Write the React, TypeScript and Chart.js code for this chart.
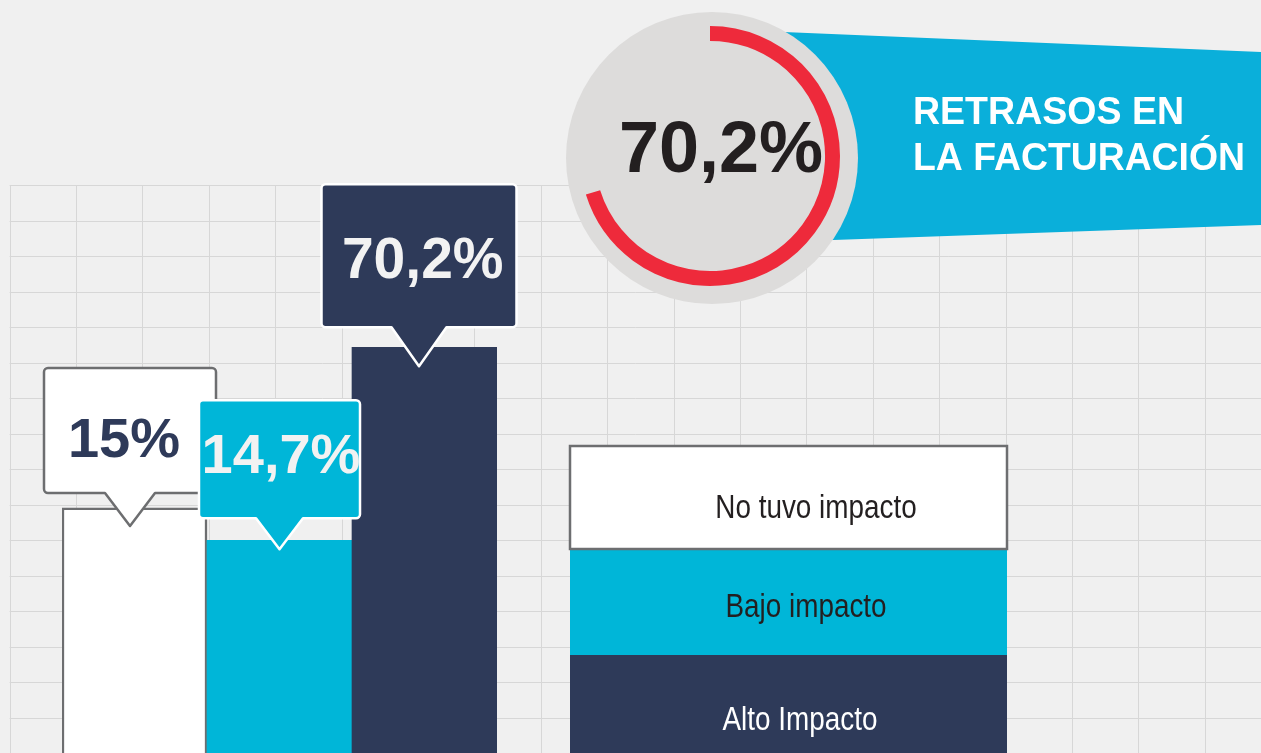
import React, { useEffect, useRef } from "react";
import { Chart, registerables } from "chart.js";

Chart.register(...registerables);

// ---- data ----
const categories = ["No tuvo impacto", "Bajo impacto", "Alto Impacto"];
const percentValues = [15, 14.7, 70.2];
// bar heights as drawn in the infographic (not to scale with the labels)
const drawnHeights = [42.4, 36.8, 70.2];
const donutValues = [70.2, 29.8];
const donutLabels = ["Retrasos en la facturación", "Resto"];
const bannerLines = ["RETRASOS EN", "LA FACTURACIÓN"];

// ---- styles ----
const BG = "#f0f0f0";
const GRID = "#d7d7d7";
const WHITE = "#ffffff";
const CYAN = "#00b6d8";
const NAVY = "#2e3a59";
const GRAYLINE = "#6d6e70";
const BANNER = "#0aafda";
const RED = "#ee2a3b";
const CIRCLE = "#dddcdb";
const DARK = "#231f20";
const BOLD = '"Liberation Sans", Arial, Helvetica, sans-serif';
const LEGENDFONT = '"Liberation Sans", Arial, Helvetica, sans-serif';

const barFill = [WHITE, CYAN, NAVY];
const barBorder = [GRAYLINE, "rgba(0,0,0,0)", "rgba(0,0,0,0)"];
const barBorderW = [2.5, 0, 0];

const callouts = [
  { dx: -4.5, tipBelow: 18, ptrH: 33, ptrW: 50, w: 172, h: 125, fill: WHITE, stroke: GRAYLINE, lw: 2.5, text: NAVY, tdx: -6, tBase: 89, size: 56 },
  { dx: 0, tipBelow: 9, ptrH: 31, ptrW: 47, w: 161, h: 118, fill: CYAN, stroke: WHITE, lw: 2.5, text: "#f2f2f2", tdx: 1.5, tBase: 73, size: 56 },
  { dx: -5.5, tipBelow: 19, ptrH: 39, ptrW: 55, w: 195, h: 143, fill: NAVY, stroke: WHITE, lw: 2.5, text: "#f2f2f2", tdx: 3.7, tBase: 94, size: 57 },
];

const legendRows = [
  { top: 549, bottom: 655, fill: CYAN, stroke: null, text: DARK, cx: 806, base: 617 },
  { top: 655, bottom: 760, fill: NAVY, stroke: null, text: WHITE, cx: 800, base: 730 },
  { top: 446, bottom: 549, fill: WHITE, stroke: GRAYLINE, text: DARK, cx: 816, base: 518 },
];
const legendOrder = [1, 2, 0];

const fmt = (v: number) => String(v).replace(".", ",") + "%";

function drawCallout(ctx: CanvasRenderingContext2D, cx: number, tipY: number, c: any) {
  const bb = tipY - c.ptrH;
  const top = bb - c.h;
  const l = cx - c.w / 2;
  const r = cx + c.w / 2;
  const rad = 4;
  ctx.save();
  ctx.beginPath();
  ctx.moveTo(l + rad, top);
  ctx.lineTo(r - rad, top);
  ctx.arcTo(r, top, r, top + rad, rad);
  ctx.lineTo(r, bb - rad);
  ctx.arcTo(r, bb, r - rad, bb, rad);
  ctx.lineTo(cx + c.ptrW / 2, bb);
  ctx.lineTo(cx, tipY);
  ctx.lineTo(cx - c.ptrW / 2, bb);
  ctx.lineTo(l + rad, bb);
  ctx.arcTo(l, bb, l, bb - rad, rad);
  ctx.lineTo(l, top + rad);
  ctx.arcTo(l, top, l + rad, top, rad);
  ctx.closePath();
  ctx.fillStyle = c.fill;
  ctx.fill();
  ctx.lineJoin = "round";
  ctx.lineWidth = c.lw;
  ctx.strokeStyle = c.stroke;
  ctx.stroke();
  ctx.restore();
  return { top, bb };
}

const mainPlugin = {
  id: "infographic",
  beforeDraw(chart: any) {
    const ctx: CanvasRenderingContext2D = chart.ctx;
    const W = chart.width;
    const H = chart.height;
    ctx.save();
    ctx.fillStyle = BG;
    ctx.fillRect(0, 0, W, H);
    ctx.strokeStyle = GRID;
    ctx.lineWidth = 1;
    const x0 = 9.6, dx = 66.4, y0 = 185.3, dy = 35.5;
    for (let x = x0; x < W; x += dx) {
      ctx.beginPath();
      ctx.moveTo(Math.round(x) + 0.5, y0);
      ctx.lineTo(Math.round(x) + 0.5, H);
      ctx.stroke();
    }
    for (let y = y0; y < H; y += dy) {
      ctx.beginPath();
      ctx.moveTo(x0, Math.round(y) + 0.5);
      ctx.lineTo(W, Math.round(y) + 0.5);
      ctx.stroke();
    }
    // banner
    ctx.fillStyle = BANNER;
    ctx.beginPath();
    ctx.moveTo(712, 28.9);
    ctx.lineTo(W, 52);
    ctx.lineTo(W, 225);
    ctx.lineTo(712, 244.2);
    ctx.closePath();
    ctx.fill();
    ctx.fillStyle = WHITE;
    ctx.font = `bold 38px ${BOLD}`;
    ctx.textAlign = "left";
    ctx.textBaseline = "alphabetic";
    const lines = [
      { t: bannerLines[0], y: 124, w: 271 },
      { t: bannerLines[1], y: 170, w: 332 },
    ];
    lines.forEach((ln) => {
      const m = ctx.measureText(ln.t).width;
      ctx.save();
      ctx.translate(913, ln.y);
      ctx.scale(ln.w / m, 1);
      ctx.fillText(ln.t, 0, 0);
      ctx.restore();
    });
    ctx.restore();
  },
  afterDatasetsDraw(chart: any) {
    const ctx: CanvasRenderingContext2D = chart.ctx;
    const meta = chart.getDatasetMeta(0);
    // legend
    ctx.save();
    legendOrder.forEach((ci, k) => {
      const row = legendRows[k];
      ctx.fillStyle = row.fill;
      ctx.fillRect(570, row.top, 437, row.bottom - row.top);
      if (row.stroke) {
        ctx.strokeStyle = row.stroke;
        ctx.lineWidth = 2.5;
        ctx.strokeRect(570, row.top, 437, row.bottom - row.top);
      }
      ctx.fillStyle = row.text;
      ctx.font = `33px ${LEGENDFONT}`;
      ctx.textAlign = "center";
      ctx.textBaseline = "alphabetic";
      ctx.save();
      ctx.translate(row.cx, row.base);
      ctx.scale(0.845, 1);
      ctx.fillText(categories[ci], 0, 0);
      ctx.restore();
    });
    ctx.restore();
    // callouts
    meta.data.forEach((bar: any, i: number) => {
      const c = callouts[i];
      const cx = bar.x + c.dx;
      const tipY = bar.y + c.tipBelow;
      const { top } = drawCallout(ctx, cx, tipY, c);
      ctx.save();
      ctx.fillStyle = c.text;
      ctx.font = `bold ${c.size}px ${BOLD}`;
      ctx.textAlign = "center";
      ctx.textBaseline = "alphabetic";
      ctx.fillText(fmt(percentValues[i]), cx + c.tdx, top + c.tBase);
      ctx.restore();
    });
  },
};

const donutPlugin = {
  id: "donutDeco",
  beforeDraw(chart: any) {
    const ctx: CanvasRenderingContext2D = chart.ctx;
    ctx.save();
    ctx.fillStyle = CIRCLE;
    ctx.beginPath();
    ctx.arc(152, 152, 146, 0, Math.PI * 2);
    ctx.fill();
    ctx.restore();
  },
  afterDraw(chart: any) {
    const ctx: CanvasRenderingContext2D = chart.ctx;
    ctx.save();
    ctx.fillStyle = DARK;
    ctx.font = `bold 72px ${BOLD}`;
    ctx.textAlign = "center";
    ctx.textBaseline = "alphabetic";
    ctx.fillText(fmt(donutValues[0]), 161, 166);
    ctx.restore();
  },
};

export default function App() {
  const barRef = useRef<HTMLCanvasElement | null>(null);
  const donutRef = useRef<HTMLCanvasElement | null>(null);

  useEffect(() => {
    const bar = new Chart(barRef.current as HTMLCanvasElement, {
      type: "bar",
      data: {
        labels: categories,
        datasets: [
          {
            data: drawnHeights,
            backgroundColor: barFill,
            borderColor: barBorder,
            borderWidth: barBorderW,
            borderSkipped: "start",
            categoryPercentage: 1,
            barPercentage: 1,
          } as any,
        ],
      },
      options: {
        responsive: false,
        animation: false,
        layout: { padding: { left: 62, right: 764, top: 175, bottom: 0 } },
        scales: {
          x: { display: false },
          y: { display: false, min: 0, max: 100 },
        },
        plugins: { legend: { display: false }, tooltip: { enabled: false } },
      },
      plugins: [mainPlugin],
    });
    const donut = new Chart(donutRef.current as HTMLCanvasElement, {
      type: "doughnut",
      data: {
        labels: donutLabels,
        datasets: [
          {
            data: donutValues,
            backgroundColor: [RED, "rgba(0,0,0,0)"],
            borderWidth: 0,
          },
        ],
      },
      options: {
        responsive: false,
        animation: false,
        radius: 130,
        cutout: "88.5%",
        rotation: 0,
        layout: { padding: 0 },
        plugins: { legend: { display: false }, tooltip: { enabled: false } },
      } as any,
      plugins: [donutPlugin],
    });
    return () => {
      bar.destroy();
      donut.destroy();
    };
  }, []);

  return (
    <div
      style={{
        position: "fixed",
        left: 0,
        top: 0,
        width: 1261,
        height: 753,
        overflow: "hidden",
        background: BG,
      }}
    >
      <canvas
        ref={barRef}
        width={1261}
        height={753}
        style={{ position: "absolute", left: 0, top: 0, width: 1261, height: 753 }}
      />
      <canvas
        ref={donutRef}
        width={300}
        height={300}
        style={{ position: "absolute", left: 560, top: 6, width: 300, height: 300 }}
      />
    </div>
  );
}
